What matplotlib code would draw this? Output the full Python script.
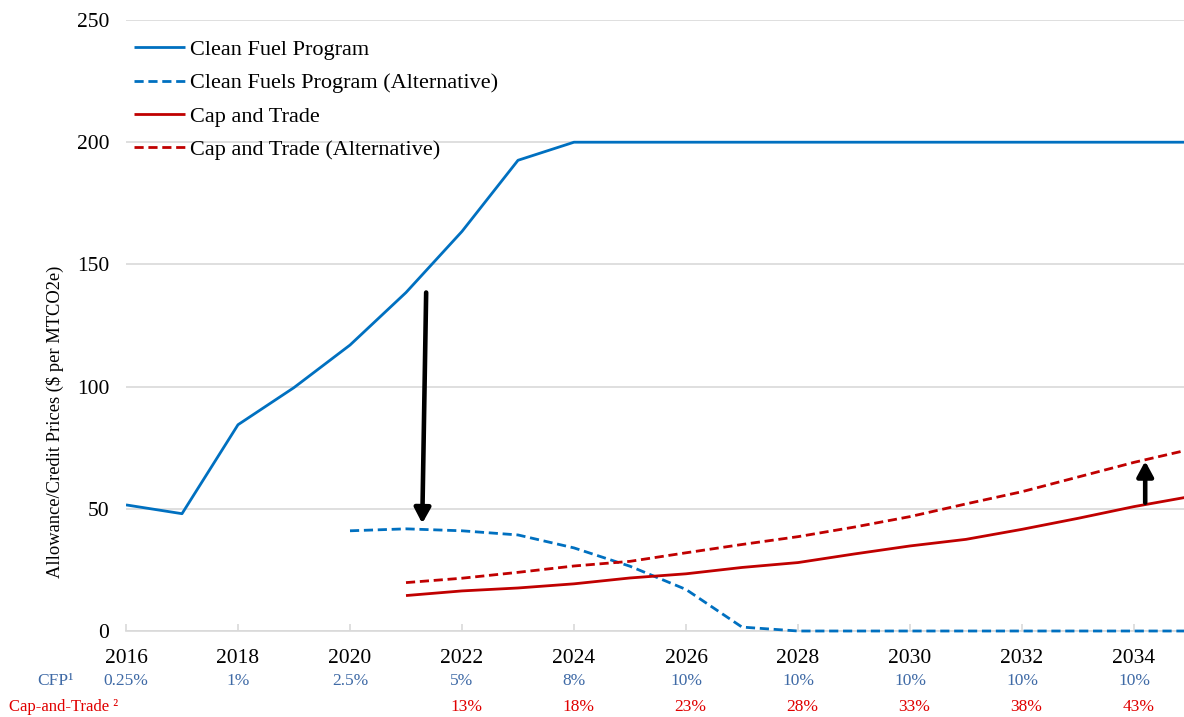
import matplotlib
matplotlib.use("Agg")
import matplotlib.pyplot as plt
import matplotlib.transforms as mtransforms

plt.rcParams['font.family'] = ['Liberation Serif', 'DejaVu Serif']

# ---------------- data ----------------
years_cfp = [2016, 2017, 2018, 2019, 2020, 2021, 2022, 2023, 2024, 2025, 2026, 2027,
             2028, 2029, 2030, 2031, 2032, 2033, 2034, 2035]
cfp = [51.6, 48.0, 84.4, 99.6, 117.0, 138.5, 163.5, 192.6, 200, 200, 200, 200,
       200, 200, 200, 200, 200, 200, 200, 200]

years_cfp_alt = [2020, 2021, 2022, 2023, 2024, 2025, 2026, 2027, 2028, 2029, 2030,
                 2031, 2032, 2033, 2034, 2035]
cfp_alt = [41.0, 41.8, 41.0, 39.3, 34.0, 26.5, 17.0, 1.6, 0, 0, 0, 0, 0, 0, 0, 0]

years_ct = [2021, 2022, 2023, 2024, 2025, 2026, 2027, 2028, 2029, 2030, 2031,
            2032, 2033, 2034, 2035]
ct = [14.5, 16.4, 17.6, 19.3, 21.7, 23.4, 26.0, 28.0, 31.5, 34.8, 37.5, 41.6,
      46.1, 50.9, 55.0]
ct_alt = [19.8, 21.6, 24.0, 26.6, 28.5, 32.0, 35.4, 38.6, 42.5, 46.8, 52.0, 57.0,
          63.0, 69.0, 74.3]

series_labels = ["Clean Fuel Program", "Clean Fuels Program (Alternative)",
                 "Cap and Trade", "Cap and Trade (Alternative)"]

tick_years = [2016, 2018, 2020, 2022, 2024, 2026, 2028, 2030, 2032, 2034]
cfp_row = ["0.25%", "1%", "2.5%", "5%", "8%", "10%", "10%", "10%", "10%", "10%"]
ct_row_years = [2022, 2024, 2026, 2028, 2030, 2032, 2034]
ct_row = ["13%", "18%", "23%", "28%", "33%", "38%", "43%"]

# ---------------- figure ----------------
W, H = 1184, 717
fig = plt.figure(figsize=(W / 100, H / 100), dpi=100)
ax = fig.add_axes([126 / W, 1 - 631 / H, 1064 / W, (631 - 20) / H])

blue = "#0070c0"
red = "#c00000"
lw = 2.0
dash = (0, (3.3, 1.7))

ax.plot(years_cfp, cfp, color=blue, lw=lw, label=series_labels[0],
        solid_capstyle='butt', zorder=3)
ax.plot(years_cfp_alt, cfp_alt, color=blue, lw=lw, ls=dash, label=series_labels[1],
        zorder=3, clip_on=False)
ax.plot(years_ct, ct, color=red, lw=lw, label=series_labels[2],
        solid_capstyle='butt', zorder=3)
ax.plot(years_ct, ct_alt, color=red, lw=lw, ls=dash, label=series_labels[3], zorder=3)

ax.set_xlim(2016, 2035)
ax.set_ylim(0, 250)
ax.set_yticks([0, 50, 100, 150, 200, 250])
ax.set_xticks(tick_years)
ax.grid(axis='y', color='#d9d9d9', lw=1.2)
ax.set_axisbelow(True)
for s in ['top', 'right', 'left']:
    ax.spines[s].set_visible(False)
ax.spines['bottom'].set_color('#d9d9d9')
ax.spines['bottom'].set_linewidth(1.2)
ax.tick_params(axis='x', direction='in', length=5, color='#d9d9d9', width=1.2,
               labelsize=15.5, pad=13)
ax.tick_params(axis='y', length=0, labelsize=15.5, pad=12)

# arrows
astyle = '-|>,head_length=0.5,head_width=0.27'
ax.annotate("", xy=(2021.29, 44.0), xytext=(2021.36, 138.5),
            arrowprops=dict(arrowstyle=astyle, color='black', lw=3.3, mutation_scale=18,
                            shrinkA=0, shrinkB=0), zorder=4)
ax.annotate("", xy=(2034.2, 69.5), xytext=(2034.2, 52.5),
            arrowprops=dict(arrowstyle=astyle, color='black', lw=3.3, mutation_scale=18,
                            shrinkA=0, shrinkB=0), zorder=4)

leg = ax.legend(loc='upper left', bbox_to_anchor=(8 / 1064, 0.968), frameon=False,
                fontsize=16, handlelength=2.3, handletextpad=0.22, labelspacing=0.57,
                borderaxespad=0.0, borderpad=0.0)

fig.text(55 / W, 1 - 422 / H, "Allowance/Credit Prices ($ per MTCO2e)", rotation=90,
         ha='center', va='center', fontsize=13.3)

# bottom rows
trans = mtransforms.blended_transform_factory(ax.transData, fig.transFigure)
cfp_color = "#3f6aa6"
ct_color = "#e00000"
fig.text(74 / W, 1 - 681 / H, "CFP¹", ha='right', va='center', fontsize=12.5, color=cfp_color)
for x, t in zip(tick_years, cfp_row):
    ax.text(x, 1 - 681 / H, t, transform=trans, ha='center', va='center',
            fontsize=12.5, color=cfp_color)
fig.text(9 / W, 1 - 707 / H, "Cap-and-Trade ²", ha='left', va='center', fontsize=12,
         color=ct_color)
for x, t in zip(ct_row_years, ct_row):
    ax.text(x + 0.08, 1 - 707 / H, t, transform=trans, ha='center', va='center',
            fontsize=12.5, color=ct_color)

fig.savefig("out.png", dpi=100)
